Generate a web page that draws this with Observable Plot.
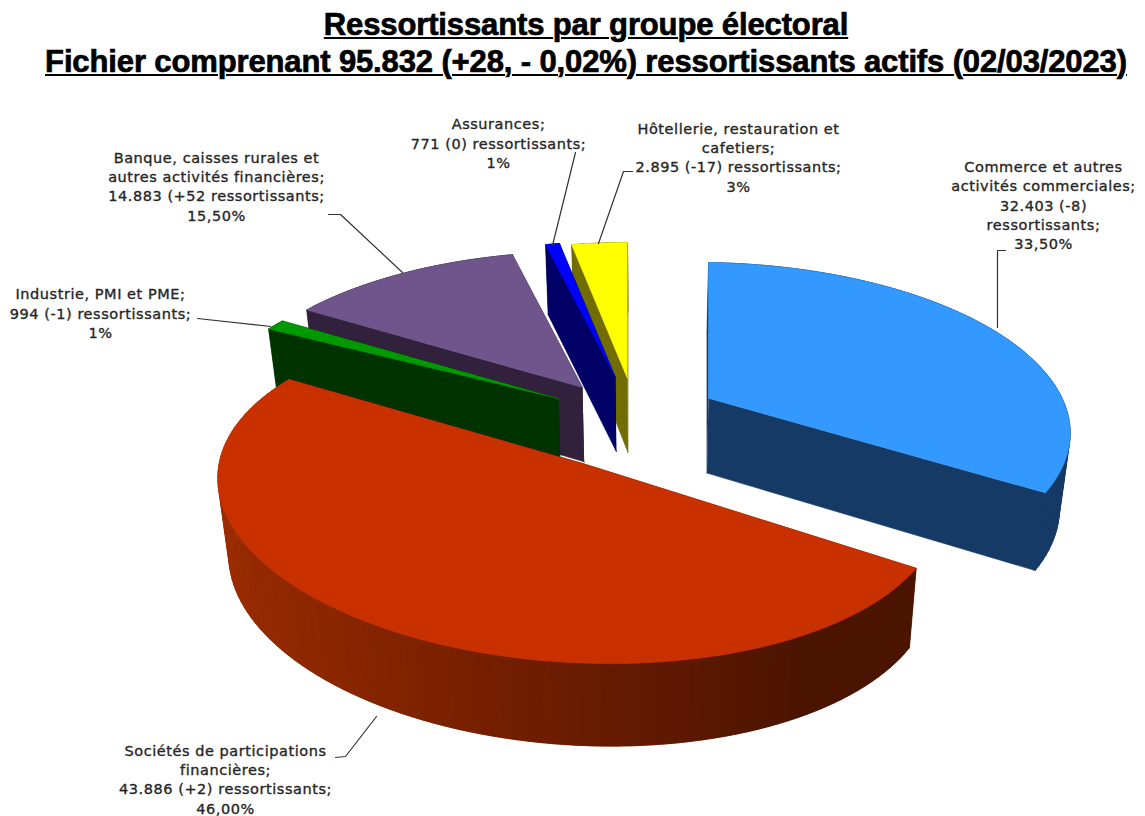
<!DOCTYPE html>
<html><head><meta charset="utf-8">
<script src="https://cdn.jsdelivr.net/npm/d3@7"></script>
<script src="https://cdn.jsdelivr.net/npm/@observablehq/plot@0.6"></script>
<style>
html,body{margin:0;padding:0;background:#fff;overflow:hidden}
#t{height:85px;width:1145px;box-sizing:border-box;padding-left:27px;text-align:center;font:bold 31px/36.5px "Liberation Sans",sans-serif;color:#000;-webkit-text-stroke:.7px #000;padding-top:7px;letter-spacing:-.13px}
#t div{text-decoration:underline;text-decoration-thickness:2px;text-underline-offset:2px;white-space:nowrap}
svg{display:block}
svg text{letter-spacing:.55px}
</style></head><body>
<div id="t"><div>Ressortissants par groupe électoral</div><div>Fichier comprenant 95.832 (+28, - 0,02%) ressortissants actifs (02/03/2023)</div></div>
<div id="c"></div>
<script>
// ---- data
const groupes = ["Commerce","Sociétés","Industrie","Banque","Assurances","Hôtellerie"];
const ressortissants = [32403, 43886, 994, 14883, 771, 2895];
const partsDessinees = [33.5, 49.3, 1.1, 12.4, 0.75, 2.95]; // angular share as drawn in the picture
const etiquettes = [
  "Commerce et autres\nactivités commerciales;\n32.403 (-8)\nressortissants;\n33,50%",
  "Sociétés de participations\nfinancières;\n43.886 (+2) ressortissants;\n46,00%",
  "Industrie, PMI et PME;\n994 (-1) ressortissants;\n1%",
  "Banque, caisses rurales et\nautres activités financières;\n14.883 (+52 ressortissants;\n15,50%",
  "Assurances;\n771 (0) ressortissants;\n1%",
  "Hôtellerie, restauration et\ncafetiers;\n2.895 (-17) ressortissants;\n3%"
];
// ---- styles and layout
const couleurs = ["#3399ff","#c93000","#009900","#70558c","#0000ff","#ffff00"];
const flancs = ["#153a66",null,"#003300","#32213c","#000066","#716d00"];
const degradeAngles = [145,180,215,270];
const degradeCouleurs = ["#4a1400","#6b1c00","#8a2600","#a83000"];
const sommets = [[708,398],[579,462],[558,398],[582,387],[615,377],[627,378]];
const petitAxe = [160,165,160,160,160,160];
const biais = [0.015,0.04,0,0,0,0];
const ordre = [5,4,3,2,1,0];
const RX = 356, P = 0.177;
const texteXY = [[1043,204],[225,778],[100,312],[216,185],[498,142],[738,156]];
const renvois = [
  [[997,327],[997,250],[1005,250]],
  [[376,716],[345,756],[335,757]],
  [[270,326],[197,318]],
  [[402,272],[340,214],[328,214]],
  [[552,245],[575,152]],
  [[598,243],[623,171],[632,171]]
];

const pie = d3.pie().sort(null).value(d => d).startAngle(0).endAngle(2*Math.PI)(partsDessinees);
const bas = ([x,y]) => [x + (647-x)*0.0254, y + 74 + 0.03*(y-378)];
function point(i, a){
  const u = Math.sin(a), v = -Math.cos(a), s = 1/(1-P*v);
  const X = RX*u*s;
  return [sommets[i][0] + X, sommets[i][1] + petitAxe[i]*v*s + biais[i]*X];
}
const echelleRouge = d3.scaleLinear().domain(degradeAngles).range(degradeCouleurs).clamp(true);
const polys = [];
let id = 0;
const ajoute = (pts, color) => { id++; pts.forEach(p => polys.push({x:p[0], y:p[1], id, color})); };
ordre.forEach(i => {
  const s = pie[i];
  const n = Math.max(4, Math.ceil((s.endAngle-s.startAngle)/0.03));
  const arc = d3.range(n+1).map(k => point(i, s.startAngle + (s.endAngle-s.startAngle)*k/n));
  const A = sommets[i];
  const wall = flancs[i] || degradeCouleurs[0];
  [[A,arc[0]],[A,arc[n]]].forEach(([a,b]) => ajoute([a,b,bas(b),bas(a)], wall));
  for (let k=n-1;k>=0;k--){
    const mid = (s.startAngle + (s.endAngle-s.startAngle)*(k+.5)/n)*180/Math.PI;
    const b = arc[Math.min(k+2,n)];
    ajoute([arc[k],b,bas(b),bas(arc[k])], flancs[i] || echelleRouge(mid));
  }
  ajoute([A,...arc], couleurs[i]);
});
const leaders = renvois.flatMap((r,i) => r.map(p => ({x:p[0], y:p[1], i})));
const labels = etiquettes.map((t,i) => ({t, x:texteXY[i][0], y:texteXY[i][1]}));

document.getElementById("c").append(Plot.plot({
  width:1145, height:731, margin:0,
  x:{domain:[0,1145], range:[0,1145], axis:null},
  y:{domain:[85,816], range:[0,731], axis:null},
  color:{type:"identity"},
  marks:[
    Plot.line(polys,{x:"x",y:"y",z:"id",fill:"color",stroke:"color",strokeWidth:0.6}),
    Plot.line(leaders,{x:"x",y:"y",z:"i",stroke:"#333",strokeWidth:1.2}),
    Plot.text(labels,{x:"x",y:"y",text:"t",fontSize:14.5,lineHeight:1.33,fontFamily:"DejaVu Sans",fill:"#262626",stroke:"#262626",strokeWidth:0.35,textAnchor:"middle",lineAnchor:"middle"})
  ]
}));
</script>
</body></html>
